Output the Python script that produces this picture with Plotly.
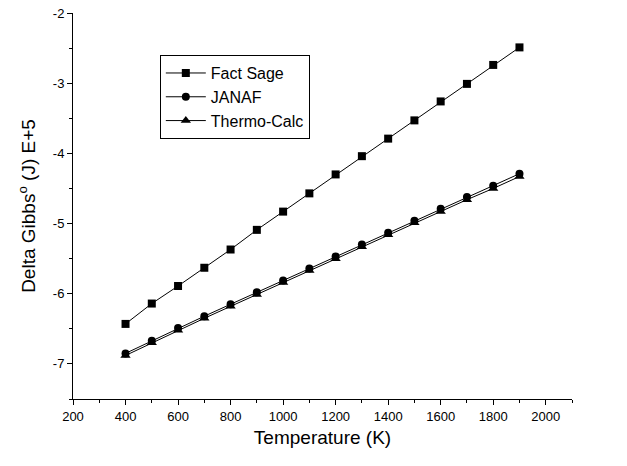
import plotly.graph_objects as go

temperature = [400, 500, 600, 700, 800, 900, 1000, 1100, 1200, 1300, 1400, 1500, 1600, 1700, 1800, 1900]
fact_sage = [-6.43, -6.14, -5.89, -5.63, -5.37, -5.09, -4.83, -4.57, -4.30, -4.04, -3.79, -3.53, -3.26, -3.01, -2.74, -2.49]
janaf = [-6.85, -6.67, -6.49, -6.32, -6.15, -5.98, -5.81, -5.64, -5.47, -5.30, -5.13, -4.96, -4.79, -4.62, -4.46, -4.29]
thermo_calc = [-6.88, -6.70, -6.52, -6.35, -6.18, -6.01, -5.84, -5.67, -5.50, -5.33, -5.16, -4.99, -4.83, -4.66, -4.50, -4.33]

x_ticks = [200, 400, 600, 800, 1000, 1200, 1400, 1600, 1800, 2000]
y_ticks = [-7, -6, -5, -4, -3, -2]
y_ticklabels = ["-7", "-6", "-5", "-4", "-3", "-2"]

series = [
    ("Fact Sage", fact_sage, "square", 8),
    ("JANAF", janaf, "circle", 8),
    ("Thermo-Calc", thermo_calc, "triangle-up", 9),
]

fig = go.Figure()
for name, vals, sym, sz in series:
    fig.add_trace(go.Scatter(
        x=temperature, y=vals, name=name, mode="lines+markers",
        line=dict(color="black", width=1),
        marker=dict(symbol=sym, size=sz, color="black"),
    ))

font = "Liberation Sans, Arial, sans-serif"
fig.update_layout(
    width=627, height=466,
    margin=dict(l=73, r=55, t=13, b=67, autoexpand=False),
    paper_bgcolor="white", plot_bgcolor="white",
    font=dict(family=font, color="black", size=13),
    showlegend=True,
    legend=dict(x=0.174, y=0.891, xanchor="left", yanchor="top",
                bordercolor="black", borderwidth=1, bgcolor="white",
                font=dict(size=16, family=font), itemwidth=40,
                tracegroupgap=0),
    xaxis=dict(
        range=[200, 2100], tickvals=x_ticks, automargin=False,
        ticks="outside", ticklen=5, tickcolor="black", tickwidth=1,
        minor=dict(dtick=100, ticks="outside", ticklen=3, tickcolor="black"),
        showline=True, linecolor="black", linewidth=1, showgrid=False, zeroline=False,
        title=dict(text="Temperature (K)", font=dict(size=19), standoff=8),
        tickfont=dict(size=13),
    ),
    yaxis=dict(
        range=[-7.5, -2], tickvals=y_ticks, ticktext=y_ticklabels, automargin=False,
        ticks="outside", ticklen=5, tickcolor="black", tickwidth=1,
        minor=dict(dtick=0.5, ticks="outside", ticklen=3, tickcolor="black"),
        showline=True, linecolor="black", linewidth=1, showgrid=False, zeroline=False,
        title=dict(text="Delta Gibbs<sup>o</sup> (J) E+5", font=dict(size=19), standoff=12),
        tickfont=dict(size=13),
    ),
)

fig.write_html("out.html")
